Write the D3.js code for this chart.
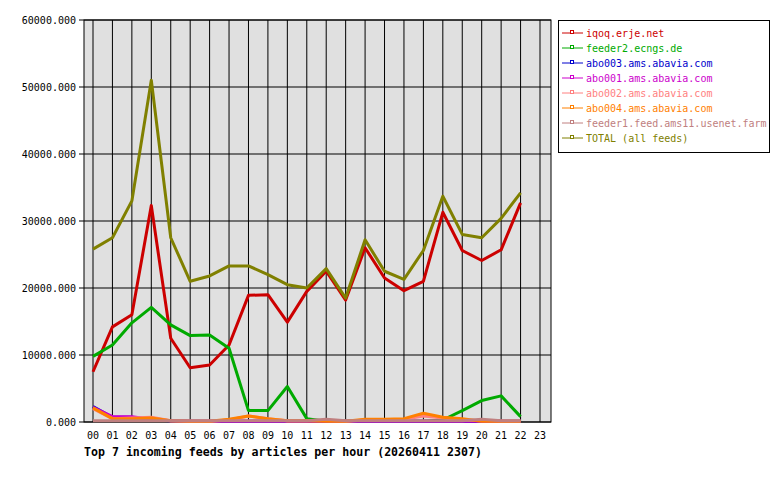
<!DOCTYPE html>
<html><head><meta charset="utf-8">
<script src="https://cdn.jsdelivr.net/npm/d3@7"></script>
<style>body{margin:0;background:#fff}text{font-family:"DejaVu Sans Mono",monospace}</style>
</head><body><svg id="c" width="780" height="480"></svg>
<script>
const hours = d3.range(24).map(h => String(h).padStart(2, "0"));
const names = ["iqoq.erje.net", "feeder2.ecngs.de", "abo003.ams.abavia.com", "abo001.ams.abavia.com",
  "abo002.ams.abavia.com", "abo004.ams.abavia.com", "feeder1.feed.ams11.usenet.farm", "TOTAL (all feeds)"];
const colors = ["#cc0000", "#00aa00", "#0000cc", "#cc00cc", "#ff8080", "#ff8000", "#c08080", "#808000"];
const iqoq = [7500,14200,16000,32300,12500,8100,8500,11500,18900,19000,14900,19500,22500,18200,26000,21500,19600,21000,31300,25600,24100,25700,32700];
const feeder2 = [9800,11500,14800,17100,14500,12900,13000,11000,1700,1700,5300,500,100,100,100,100,100,100,300,1700,3200,3900,800];
const abo003 = [2300,700,700,300,200,100,100,100,100,100,100,100,100,100,100,100,100,100,100,100,100,100,100];
const abo001 = [2200,800,800,400,200,100,100,100,100,100,100,100,100,100,100,100,100,100,100,100,100,100,100];
const abo002 = [2000,500,600,700,200,100,100,300,900,500,200,200,200,100,300,300,400,900,600,300,200,100,100];
const abo004 = [2100,500,500,600,200,100,100,400,900,500,200,200,100,100,400,400,500,1300,700,500,100,100,100];
const feeder1 = [200,200,200,200,200,200,200,200,200,200,200,200,400,200,200,200,200,200,200,200,400,200,200];
const total = [25800,27500,33000,51000,27500,21000,21800,23300,23300,22000,20500,20000,22900,18500,27200,22500,21300,25600,33700,28000,27500,30400,34200];
const series = [iqoq, feeder2, abo003, abo001, abo002, abo004, feeder1, total];
const yTicks = [0, 10000, 20000, 30000, 40000, 50000, 60000];

const svg = d3.select("#c");
const L = 84, R = 551, T = 20, B = 422;
const x = d3.scaleLinear().domain([0, 23]).range([93, 540]);
const y = d3.scaleLinear().domain([0, 60000]).range([B, T]);

svg.append("rect").attr("x", L).attr("y", T).attr("width", R - L).attr("height", B - T)
  .attr("fill", "#e0e0e0");
svg.append("g").selectAll("line").data(hours).join("line")
  .attr("x1", (d, i) => x(i)).attr("x2", (d, i) => x(i)).attr("y1", T).attr("y2", B)
  .attr("stroke", "#000");
svg.append("g").selectAll("line").data(yTicks).join("line")
  .attr("x1", L - 5).attr("x2", R).attr("y1", d => y(d)).attr("y2", d => y(d))
  .attr("stroke", "#000");
svg.append("g").selectAll("text").data(yTicks).join("text")
  .attr("x", L - 8).attr("y", d => y(d) + 4).attr("text-anchor", "end")
  .attr("font-size", 10).text(d => d.toFixed(3));
svg.append("g").selectAll("text").data(hours).join("text")
  .attr("x", (d, i) => x(i)).attr("y", B + 17).attr("text-anchor", "middle")
  .attr("font-size", 10).text(d => d);
svg.append("rect").attr("x", L).attr("y", T).attr("width", R - L).attr("height", B - T)
  .attr("fill", "none").attr("stroke", "#000");

const line = d3.line().x((d, i) => x(i)).y(d => y(d));
series.forEach((s, k) => {
  svg.append("path").attr("d", line(s)).attr("fill", "none")
    .attr("stroke", colors[k]).attr("stroke-width", 3).attr("stroke-linejoin", "round");
});

svg.append("text").attr("x", L).attr("y", 456).attr("font-size", 11.6).attr("font-weight", "bold")
  .text("Top 7 incoming feeds by articles per hour (20260411 2307)");

const lg = svg.append("g");
lg.append("rect").attr("x", 558.5).attr("y", 20.5).attr("width", 211).attr("height", 132)
  .attr("fill", "#fff").attr("stroke", "#000");
names.forEach((n, k) => {
  const yy = 33 + k * 15;
  lg.append("line").attr("x1", 562).attr("x2", 583).attr("y1", yy).attr("y2", yy).attr("stroke", colors[k]);
  lg.append("rect").attr("x", 570.5).attr("y", yy - 2.5).attr("width", 3).attr("height", 3)
    .attr("fill", "#fff").attr("stroke", colors[k]);
  lg.append("text").attr("x", 586).attr("y", yy + 4).attr("font-size", 10).attr("fill", colors[k]).text(n);
});
</script></body></html>
